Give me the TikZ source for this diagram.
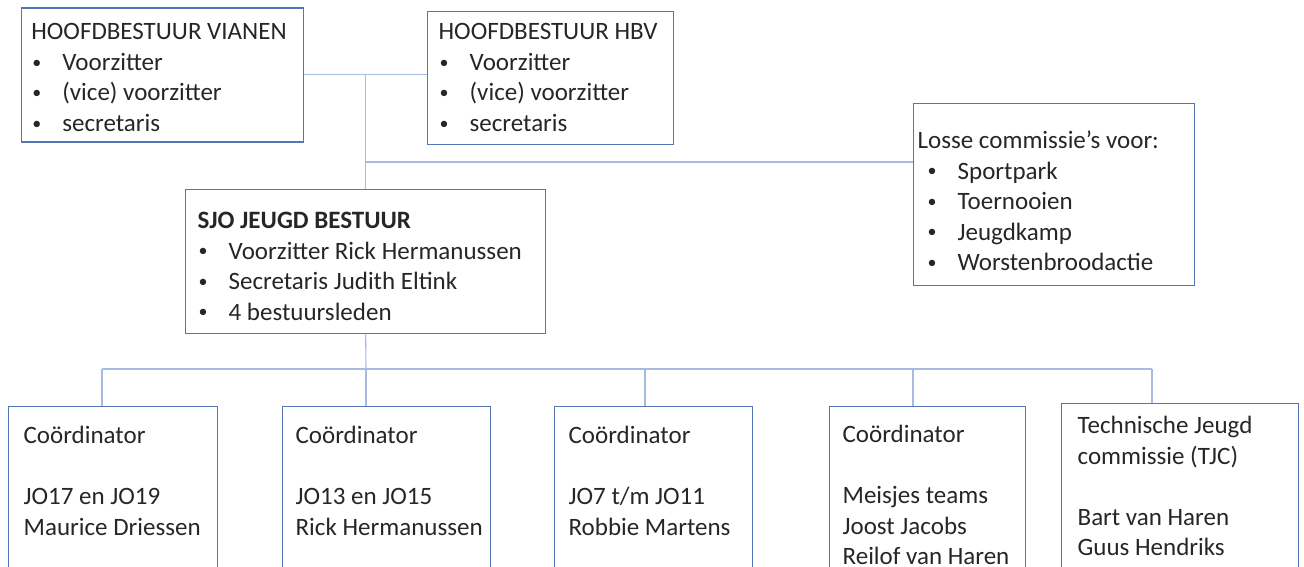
\documentclass[tikz,border=0pt]{standalone}
\usepackage{fontspec}
\setmainfont{Carlito}
\usetikzlibrary{calc}
\definecolor{boxblue}{RGB}{84,118,180}
\definecolor{linkblue}{RGB}{164,187,226}
\definecolor{txtgray}{RGB}{38,38,38}
\newcommand{\boxtext}[4]{\parbox[t][#2][t]{#1}{\raggedright\rule{0pt}{#3}#4}}
\newcommand{\bul}{\makebox[31pt][l]{\hspace{1pt}\raisebox{2.2pt}{\fontsize{18}{18}\selectfont\textbullet}}}

\begin{document}
\begin{tikzpicture}[x=1pt,y=-1pt,
  orgbox/.style={draw=boxblue,line width=1.3pt,anchor=north west,inner ysep=0pt,inner xsep=10pt,
    text=txtgray,font=\fontsize{25}{30.5}\selectfont},
  link/.style={draw=linkblue,line width=1.1pt}]
\clip (0,0) rectangle (1304,567);

%top row
\node[orgbox] (vianen) at (20.7,7.3) {\boxtext{262pt}{134pt}{32pt}{HOOFDBESTUUR VIANEN\\
  \bul Voorzitter\\ \bul (vice) voorzitter\\ \bul secretaris}};
\node[orgbox,inner xsep=11pt] (hbv) at (427,10.7) {\boxtext{224pt}{133pt}{28.6pt}{HOOFDBESTUUR HBV\\
  \bul Voorzitter\\ \bul (vice) voorzitter\\ \bul secretaris}};
\node[orgbox,inner xsep=13pt] (losse) at (913,103) {\boxtext{255pt}{182pt}{45pt}{\hspace*{-9pt}Losse commissie’s voor:\\
  \bul Sportpark\\ \bul Toernooien\\ \bul Jeugdkamp\\ \bul Worstenbroodactie}};
\node[orgbox,inner xsep=12pt] (sjo) at (185,189) {\boxtext{336pt}{144pt}{39pt}{\textbf{SJO JEUGD BESTUUR}\\
  \bul Voorzitter Rick Hermanussen\\ \bul Secretaris Judith Eltink\\ \bul 4 bestuursleden}};

%bottom row
\node[orgbox,inner xsep=15pt] (c1) at (8,406) {\boxtext{179pt}{200pt}{37pt}{Coördinator\\[30.5pt]
  JO17 en JO19\\ \mbox{Maurice Driessen}}};
\node[orgbox,inner xsep=13pt] (c2) at (282,406) {\boxtext{182pt}{200pt}{37pt}{Coördinator\\[30.5pt]
  JO13 en JO15\\ \mbox{Rick Hermanussen}}};
\node[orgbox,inner xsep=14pt] (c3) at (554,406) {\boxtext{170pt}{200pt}{37pt}{Coördinator\\[30.5pt]
  JO7 t/m JO11\\ \mbox{Robbie Martens}}};
\node[orgbox,inner xsep=13pt] (c4) at (829,406) {\boxtext{170pt}{200pt}{36pt}{Coördinator\\[30.5pt]
  Meisjes teams\\ Joost Jacobs\\ \mbox{Reilof van Haren}}};
\node[orgbox,inner xsep=16pt] (c5) at (1061,403) {\boxtext{205pt}{200pt}{30pt}{Technische Jeugd\\ commissie (TJC)\\[30.5pt]
  Bart van Haren\\ Guus Hendriks}};

%connectors
\coordinate (mid) at (366,162);
\draw[link] (vianen.east) -- (vianen.east -| hbv.west);
\draw[link] (sjo.north) -- (sjo.north |- vianen.east);
\draw[link] (mid) -- (mid -| losse.west);

\coordinate (d1) at (102,369);
\coordinate (d2) at (366,369);
\coordinate (d3) at (645,369);
\coordinate (d4) at (913,369);
\coordinate (d5) at (1152,369);
\draw[link] (sjo.south) -- (d2);
\draw[link] (d1) -- (d5);
\foreach \i in {1,...,5}
  \draw[link] (d\i) -- (d\i |- c\i.north);
\end{tikzpicture}
\end{document}
